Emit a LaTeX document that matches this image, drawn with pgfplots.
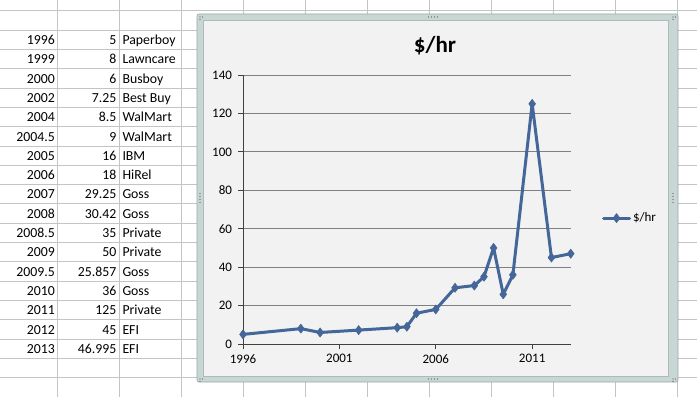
\documentclass[border=0pt]{standalone}
\usepackage{fontspec}
\setmainfont{Carlito}
\usepackage{pgfplots}
\pgfplotsset{compat=1.18}
\definecolor{gridc}{RGB}{196,196,196}
\definecolor{serc}{RGB}{68,102,153}
\definecolor{chartbg}{RGB}{242,242,242}
\definecolor{framec}{RGB}{200,215,212}
\definecolor{framed}{RGB}{150,170,168}
\definecolor{majg}{RGB}{128,128,128}
\begin{document}
\begin{tikzpicture}[x=1bp,y=1bp]
\useasboundingbox (0,0) rectangle (697,397);
\fill[white] (0,0) rectangle (697,397);
% spreadsheet grid
\foreach \k in {0,...,19} {\draw[gridc,line width=0.8bp] (0,{397-(10.8+19.3*\k)}) -- (697,{397-(10.8+19.3*\k)});}
\foreach \x in {57,119,...,677} {\draw[gridc,line width=0.8bp] (\x,0) -- (\x,397);}
% spreadsheet cells
\foreach \yr/\v/\n [count=\i from 0] in {1996/5/Paperboy,1999/8/Lawncare,2000/6/Busboy,2002/7.25/Best Buy,2004/8.5/WalMart,2004.5/9/WalMart,2005/16/IBM,2006/18/HiRel,2007/29.25/Goss,2008/30.42/Goss,2008.5/35/Private,2009/50/Private,2009.5/25.857/Goss,2010/36/Goss,2011/125/Private,2012/45/EFI,2013/46.995/EFI} {
  \node[anchor=base east,inner sep=0pt,font=\fontsize{13.8bp}{15bp}\selectfont] at (55,{397-(39.75+19.3*\i)-4.8}) {\yr};
  \node[anchor=base east,inner sep=0pt,font=\fontsize{13.8bp}{15bp}\selectfont] at (116.5,{397-(39.75+19.3*\i)-4.8}) {\v};
  \node[anchor=base west,inner sep=0pt,font=\fontsize{13.8bp}{15bp}\selectfont] at (122.3,{397-(39.75+19.3*\i)-4.8}) {\n};
}
% chart frame
\fill[framec,draw=framed,line width=0.6bp,rounded corners=2bp] (197,{397-382}) rectangle (678,{397-14});
\fill[chartbg,draw=framed!80,line width=0.6bp] (203,{397-376}) rectangle (668,{397-20});
% handles
\foreach \dx in {-4.5,-1.5,1.5,4.5} {\fill[gray!70!black] ({433+\dx},{397-17}) circle (0.6); \fill[gray!70!black] ({433+\dx},{397-379}) circle (0.6);}
\foreach \dy in {-4.5,-1.5,1.5,4.5} {\fill[gray!70!black] (200,{397-198+\dy}) circle (0.6); \fill[gray!70!black] (673,{397-198+\dy}) circle (0.6);}
\foreach \cx/\cy in {200/17,673/17,200/379,673/379} {\fill[gray!70!black] (\cx,{397-\cy}) circle (0.6); \fill[gray!70!black] (\cx+2.5,{397-\cy}) circle (0.6); \fill[gray!70!black] (\cx,{397-\cy-2.5}) circle (0.6);}
% title
\node[font=\fontsize{23bp}{26bp}\selectfont\bfseries,inner sep=0pt] at (435,{397-46}) {\$/hr};
\begin{axis}[
  at={(243bp,53bp)}, anchor=south west,
  scale only axis, width=327.7bp, height=269bp,
  xmin=1996, xmax=2013, ymin=0, ymax=140,
  xtick={1996,2001,2006,2011},
  ytick={0,20,...,140},
  axis lines*=left,
  axis line style={black!75, line width=0.8bp},
  ymajorgrids, grid style={majg, line width=0.9bp},
  tick align=outside, major tick length=5bp,
  tick style={black!75, line width=0.8bp},
  x tick label style={/pgf/number format/1000 sep={}},
  ticklabel style={font=\fontsize{13bp}{15bp}\selectfont},
  /pgf/number format/assume math mode=true,
  yticklabel style={xshift=-2.5bp},
  xticklabel style={yshift=-2bp},
  clip=false,
  legend style={at={(1.095,0.468)}, anchor=west, draw=none, fill=none, inner sep=0pt,
     font=\fontsize{13bp}{15bp}\selectfont, column sep=0pt},
  legend cell align=left,
  legend image code/.code={\draw[mark repeat=2,mark phase=2] plot coordinates {(0bp,0bp) (13bp,0bp) (26bp,0bp)};},
]
\addplot[serc, line width=3bp, line join=round, line cap=round, mark=diamond*, mark size=4.6bp, mark options={solid, fill=serc, line width=0.5bp}] coordinates {
(1996,5) (1999,8) (2000,6) (2002,7.25) (2004,8.5) (2004.5,9) (2005,16) (2006,18) (2007,29.25) (2008,30.42) (2008.5,35) (2009,50) (2009.5,25.857) (2010,36) (2011,125) (2012,45) (2013,46.995)
};
\addlegendentry{\$/hr}
\end{axis}
\end{tikzpicture}
\end{document}
